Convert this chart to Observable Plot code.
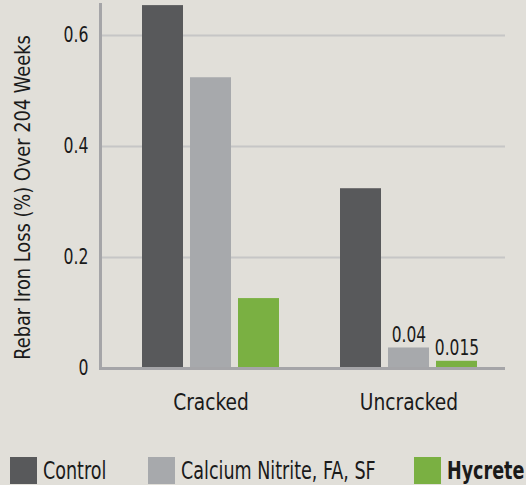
<!DOCTYPE html>
<html>
<head>
<meta charset="utf-8">
<script src="https://cdn.jsdelivr.net/npm/d3@7"></script>
<script src="https://cdn.jsdelivr.net/npm/@observablehq/plot@0.6"></script>
<style>
  html, body { margin: 0; padding: 0; background: #e1dfd9; width: 526px; height: 485px; overflow: hidden; }
  body { font-family: "DejaVu Sans Condensed", "DejaVu Sans", sans-serif; color: #1a1a1a; }
  #chart svg { display: block; }
  #legend { position: relative; width: 526px; height: 60px; }
  .item { position: absolute; top: 31px; display: flex; align-items: center; white-space: nowrap; font-size: 25px; }
  .sw { width: 27px; height: 27px; margin-right: 6px; flex: none; }
  .item span { display: inline-block; transform: scaleX(0.78); transform-origin: left center; }
</style>
</head>
<body>
<div id="chart"></div>
<div id="legend"></div>
<script>
const groups = ["Cracked", "Uncracked"];
const series = ["Control", "Calcium Nitrite, FA, SF", "Hycrete"];
const controlValues = [0.654, 0.324];
const calciumValues = [0.524, 0.037];
const hycreteValues = [0.126, 0.013];
const calciumLabels = ["", "0.04"];
const hycreteLabels = ["", "0.015"];
const colors = ["#58595b", "#a7a9ac", "#7ab042"];
const yTicks = [0, 0.2, 0.4, 0.6];
const yTickLabels = ["0", "0.2", "0.4", "0.6"];
const yLabel = "Rebar Iron Loss (%) Over 204 Weeks";

const seriesValues = [controlValues, calciumValues, hycreteValues];
const seriesLabels = [["", ""], calciumLabels, hycreteLabels];
const tables = series.map((s, si) => groups.map((g, gi) => ({
  group: g, series: s, value: seriesValues[si][gi], label: seriesLabels[si][gi]
})));

const font = "'DejaVu Sans Condensed', 'DejaVu Sans', sans-serif";
const ink = "#1a1a1a";
// bar layout inside each group band (138px): bar 42px, gap 6px
const barInsets = [[0, 96], [48, 48], [96, 0]];
const barShift = [-48, 0, 48];

const chart = Plot.plot({
  width: 526,
  height: 425,
  marginLeft: 100,
  marginRight: 21,
  marginTop: 4,
  marginBottom: 57,
  style: {background: "transparent", fontFamily: font, color: ink},
  x: {domain: groups, paddingInner: 0.3065, paddingOuter: 0.171, align: 0.603, axis: null},
  y: {domain: [0, 0.656], axis: null},
  marks: [
    Plot.ruleY(yTicks.slice(1), {stroke: "#c6c6c6", strokeWidth: 2}),
    ...tables.map((t, i) => Plot.barY(t, {x: "group", y: "value", fill: colors[i], insetLeft: barInsets[i][0], insetRight: barInsets[i][1]})),
    ...tables.map((t, i) => Plot.text(t.filter(d => d.label), {x: "group", y: "value", text: "label", dx: barShift[i], lineAnchor: "bottom", dy: -6, fontSize: 21.5, fill: ink})),
    Plot.ruleY([0], {stroke: "#a5a5a8", strokeWidth: 3}),
    Plot.frame({anchor: "left", stroke: "#a5a5a8", strokeWidth: 3}),
    Plot.text(yTicks, {y: d => d, text: (d, i) => yTickLabels[i], frameAnchor: "left", textAnchor: "end", dx: -12, fontSize: 21, fill: ink}),
    Plot.text([yLabel], {frameAnchor: "left", textAnchor: "middle", rotate: -90, dx: -78, dy: 11, fontSize: 22, fill: ink}),
    Plot.text(groups, {x: d => d, text: d => d, frameAnchor: "bottom", lineAnchor: "top", dy: 25, fontSize: 23, fill: ink})
  ]
});
document.getElementById("chart").appendChild(chart);

// narrow the glyphs horizontally to mimic a condensed typeface
const squeezeFor = (txt) => {
  if (txt === yLabel) return 0.9;
  if (groups.includes(txt)) return 0.9;
  if (yTickLabels.includes(txt)) return 0.83;
  return 0.8;
};
chart.querySelectorAll("text").forEach(t => {
  const s = squeezeFor(t.textContent);
  const xa = t.getAttribute("x");
  const tr = t.getAttribute("transform") || "";
  let pre = "";
  if (xa !== null && !isNaN(+xa)) { pre = ` translate(${+xa},0)`; t.setAttribute("x", 0); }
  t.setAttribute("transform", `${tr}${pre} scale(${s},1)`);
});

const legendLeft = [10, 148, 414];
const legend = document.getElementById("legend");
series.forEach((s, i) => {
  const item = document.createElement("div");
  item.className = "item";
  item.style.left = legendLeft[i] + "px";
  const sw = document.createElement("div");
  sw.className = "sw";
  sw.style.background = colors[i];
  const t = document.createElement("span");
  t.textContent = s;
  if (s === "Hycrete") t.style.fontWeight = "bold";
  item.appendChild(sw);
  item.appendChild(t);
  legend.appendChild(item);
});
</script>
</body>
</html>
